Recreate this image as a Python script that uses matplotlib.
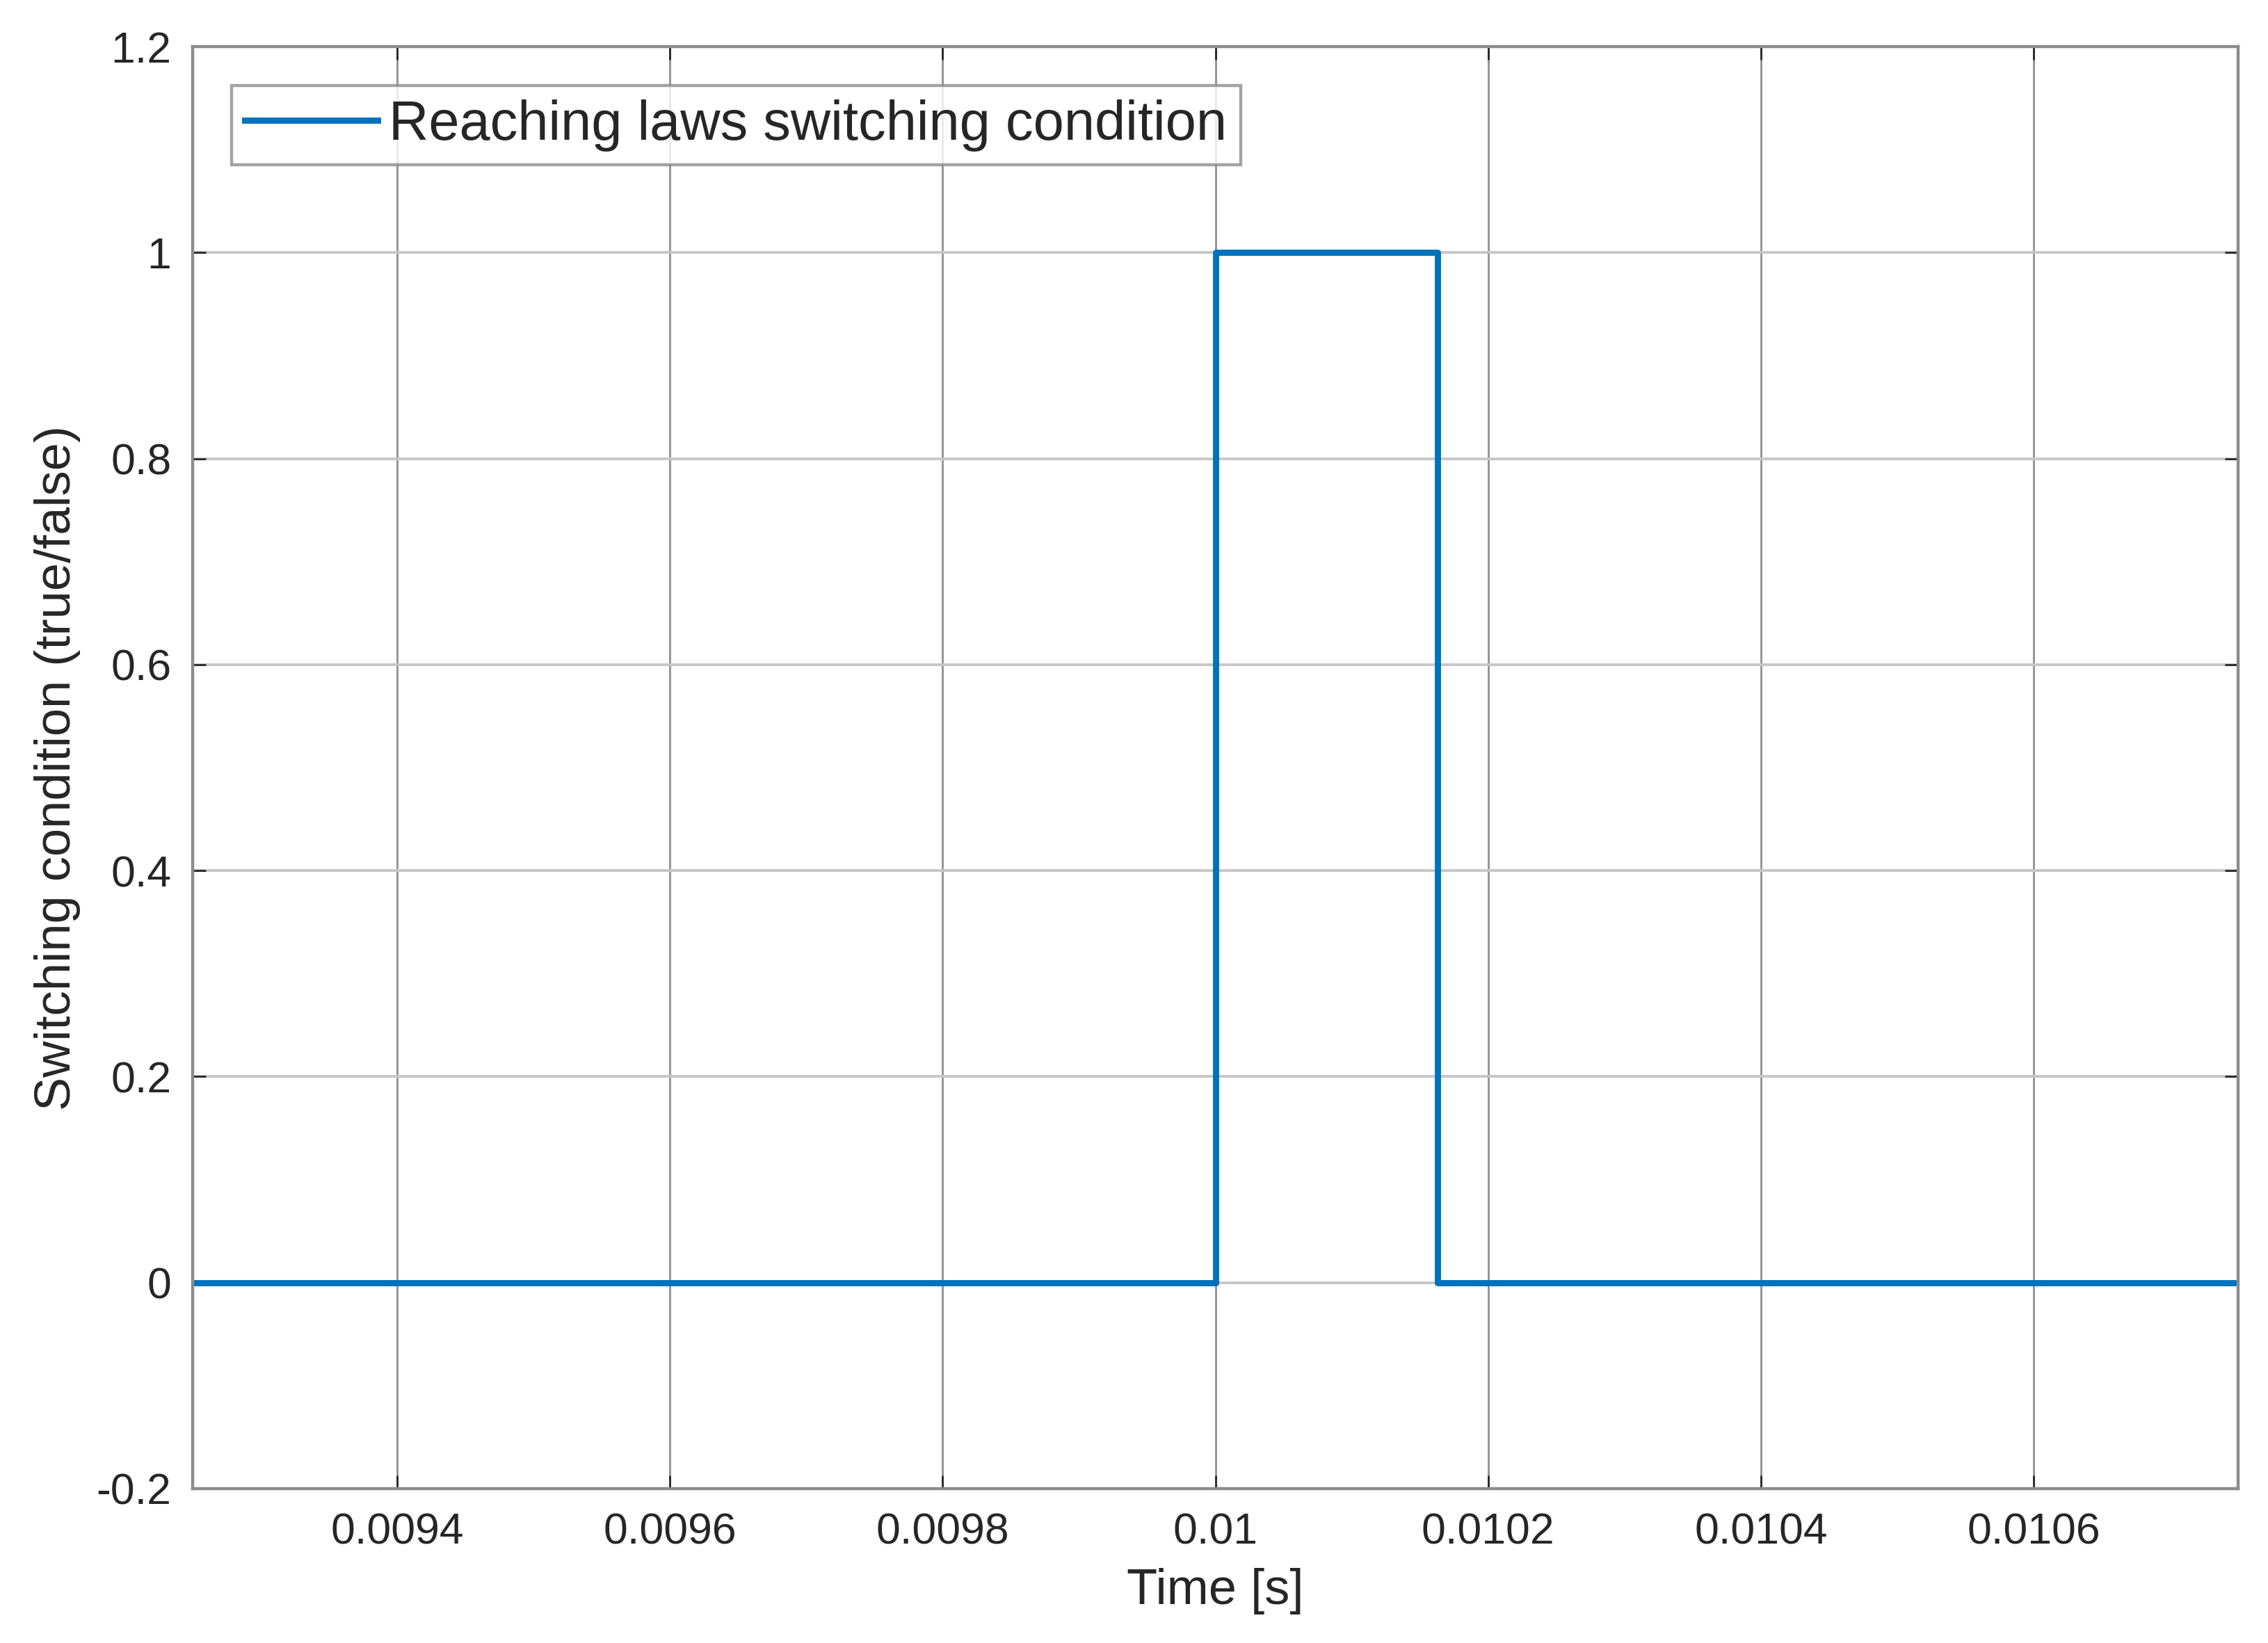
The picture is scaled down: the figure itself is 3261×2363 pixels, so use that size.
import matplotlib.pyplot as plt

plt.rcParams['font.family'] = ['Liberation Sans', 'DejaVu Sans']

# switching condition signal (step changes)
t = [0.00925, 0.0100, 0.010163, 0.01075]
state = [0, 1, 0, 0]

xticks = [0.0094, 0.0096, 0.0098, 0.01, 0.0102, 0.0104, 0.0106]
xticklabels = ['0.0094', '0.0096', '0.0098', '0.01', '0.0102', '0.0104', '0.0106']
yticks = [-0.2, 0, 0.2, 0.4, 0.6, 0.8, 1, 1.2]
yticklabels = ['-0.2', '0', '0.2', '0.4', '0.6', '0.8', '1', '1.2']

fig = plt.figure(figsize=(16.31, 11.815), dpi=200)
ax = fig.add_axes([0.0849, 0.094, 0.9017, 0.8776])

ax.plot(t, state, drawstyle='steps-post', color='#0072BD', lw=3.2,
        label='Reaching laws switching condition')

ax.set_xlim(0.00925, 0.01075)
ax.set_ylim(-0.2, 1.2)
ax.set_xticks(xticks)
ax.set_xticklabels(xticklabels)
ax.set_yticks(yticks)
ax.set_yticklabels(yticklabels)

ax.grid(False)
for x in xticks:
    ax.axvline(x, color='#8f8f8f', lw=1.0, zorder=0)
for y in yticks:
    ax.axhline(y, color='#c6c6c6', lw=1.4, zorder=0)

for s in ax.spines.values():
    s.set_color('#8c8c8c')
    s.set_linewidth(1.6)

ax.tick_params(direction='in', length=7, width=1.0, color='#262626',
               labelsize=22.5, labelcolor='#262626', top=True, right=True, pad=11)
ax.tick_params(axis='x', pad=12)

ax.set_xlabel('Time [s]', fontsize=26, color='#262626', labelpad=8)
ax.set_ylabel('Switching condition (true/false)', fontsize=26, color='#262626', labelpad=8)

leg = ax.legend(loc='upper left', fontsize=28.6, frameon=True, fancybox=False,
                edgecolor='#8c8c8c', handlelength=2.4, handletextpad=0.2,
                borderpad=0.25, borderaxespad=0.7)
leg.get_frame().set_linewidth(1.6)
for txt in leg.get_texts():
    txt.set_color('#262626')

fig.savefig('out.png', dpi=200, facecolor='white')
